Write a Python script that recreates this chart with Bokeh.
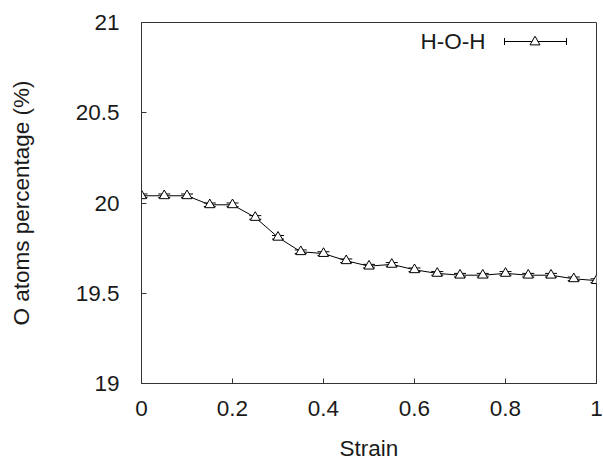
from bokeh.plotting import figure
from bokeh.models import (ColumnDataSource, FixedTicker, Whisker, TeeHead, Arrow,
                          Label, Legend, LegendItem)
from bokeh.embed import file_html
from bokeh.resources import INLINE

strain = [0.0, 0.05, 0.1, 0.15, 0.2, 0.25, 0.3, 0.35, 0.4, 0.45, 0.5,
          0.55, 0.6, 0.65, 0.7, 0.75, 0.8, 0.85, 0.9, 0.95, 1.0]
o_pct = [20.04, 20.04, 20.04, 19.99, 19.99, 19.92, 19.81, 19.73, 19.72, 19.68, 19.65,
         19.66, 19.63, 19.61, 19.60, 19.60, 19.61, 19.60, 19.60, 19.58, 19.57]
o_err = [0.01] * len(strain)
series_name = "H-O-H"

x_ticks = [0, 0.2, 0.4, 0.6, 0.8, 1.0]
x_tick_labels = ["0", "0.2", "0.4", "0.6", "0.8", "1"]
y_ticks = [19, 19.5, 20, 20.5, 21]
y_tick_labels = ["19", "19.5", "20", "20.5", "21"]

FONT = "Liberation Sans"
FS = "22.5px"
TXT = "#1a1a1a"
AX = "#333333"

src = ColumnDataSource(dict(
    x=strain, y=o_pct,
    lower=[v - e for v, e in zip(o_pct, o_err)],
    upper=[v + e for v, e in zip(o_pct, o_err)],
))

p = figure(width=603, height=467, x_range=(0, 1), y_range=(19, 21),
           output_backend="svg", toolbar_location=None,
           min_border_left=141, min_border_right=7, min_border_top=22,
           min_border_bottom=84)
p.background_fill_color = "white"
p.border_fill_color = "white"
p.outline_line_color = AX
p.outline_line_width = 1
p.xgrid.visible = False
p.ygrid.visible = False

for ax in (p.xaxis[0], p.yaxis[0]):
    ax.axis_line_color = AX
    ax.major_tick_line_color = AX
    ax.major_tick_in = 5
    ax.major_tick_out = 0
    ax.minor_tick_line_color = None
    ax.major_label_text_font = FONT
    ax.major_label_text_font_size = FS
    ax.major_label_text_color = TXT
    ax.axis_label_text_font = FONT
    ax.axis_label_text_font_size = FS
    ax.axis_label_text_color = TXT
    ax.axis_label_text_font_style = "normal"

p.xaxis.ticker = FixedTicker(ticks=x_ticks)
p.xaxis.major_label_overrides = dict(zip(x_ticks, x_tick_labels))
p.yaxis.ticker = FixedTicker(ticks=y_ticks)
p.yaxis.major_label_overrides = dict(zip(y_ticks, y_tick_labels))
p.xaxis.axis_label = "Strain"
p.yaxis.axis_label = "O atoms percentage (%)"
p.xaxis.major_label_standoff = 17
p.xaxis.axis_label_standoff = 17
p.yaxis.major_label_standoff = 22
p.yaxis.axis_label_standoff = 39

line_r = p.line("x", "y", source=src, line_color="black", line_width=1)
p.add_layout(Whisker(source=src, base="x", lower="lower", upper="upper",
                     dimension="height", line_color="black", line_width=1,
                     upper_head=TeeHead(size=12, line_color="black", line_width=1),
                     lower_head=TeeHead(size=12, line_color="black", line_width=1)))
sc_r = p.scatter("x", "y", source=src, marker="triangle", size=10,
                 fill_color="white", line_color="black", line_width=1)

# legend (gnuplot style: label on the left, sample on the right)
p.add_layout(Arrow(x_start=363, y_start=342, x_end=425, y_end=342,
                   start_units="screen", end_units="screen",
                   line_color="black", line_width=1,
                   start=TeeHead(size=7, line_color="black", line_width=1),
                   end=TeeHead(size=7, line_color="black", line_width=1)))
p.add_layout(Label(x=344, y=342, x_units="screen", y_units="screen",
                   text=series_name, text_align="right", text_baseline="middle",
                   text_font=FONT, text_font_size=FS, text_color=TXT))
leg = Legend(items=[LegendItem(label=" ", renderers=[sc_r])],
             location=(381, 329), padding=0, margin=0, spacing=0,
             glyph_width=25, glyph_height=25, label_width=0, label_height=0,
             label_standoff=0,
             label_text_font_size="1px", border_line_color=None,
             background_fill_alpha=0)
p.add_layout(leg, "center")

open("out.html", "w").write(file_html(p, INLINE))
